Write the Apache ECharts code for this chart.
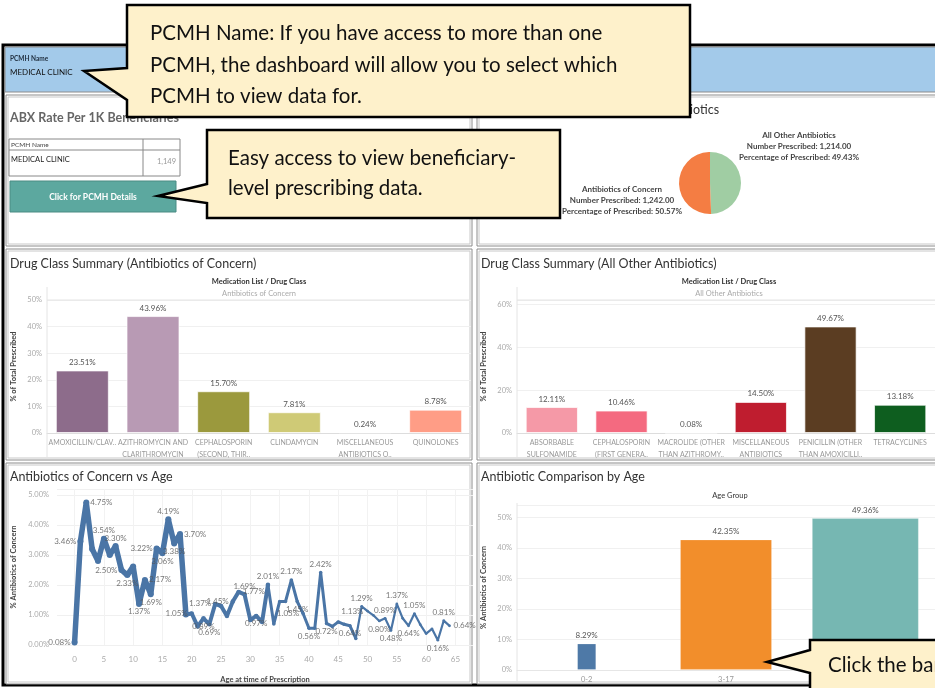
<!DOCTYPE html>
<html>
<head>
<meta charset="utf-8">
<title>PCMH Antibiotic Prescribing Dashboard</title>
<script src="https://cdn.jsdelivr.net/npm/echarts@6/dist/echarts.min.js"></script>
<style>
  html, body { margin: 0; padding: 0; background: #fff; }
  #chart { width: 935px; height: 688px; }
</style>
</head>
<body>
<div id="chart"></div>
<script>
// ---- values ----
var clinicName = 'MEDICAL CLINIC'
var abxRatePer1k = '1,149'

var pieNames = ['All Other Antibiotics', 'Antibiotics of Concern']
var pieCounts = [1214, 1242]
var piePercents = [49.43, 50.57]

var concernClasses = ['AMOXICILLIN/CLAV..', 'AZITHROMYCIN AND\nCLARITHROMYCIN', 'CEPHALOSPORIN\n(SECOND, THIR..', 'CLINDAMYCIN', 'MISCELLANEOUS\nANTIBIOTICS O..', 'QUINOLONES']
var concernPct = [23.51, 43.96, 15.70, 7.81, 0.24, 8.78]

var otherClasses = ['ABSORBABLE\nSULFONAMIDE', 'CEPHALOSPORIN\n(FIRST GENERA..', 'MACROLIDE (OTHER\nTHAN AZITHROMY..', 'MISCELLANEOUS\nANTIBIOTICS', 'PENICILLIN (OTHER\nTHAN AMOXICILLI..', 'TETRACYCLINES']
var otherPct = [12.11, 10.46, 0.08, 14.50, 49.67, 13.18]

var ages = [0, 1, 2, 3, 4, 5, 6, 7, 8, 9, 10, 11, 12, 13, 14, 15, 16, 17, 18, 19,
  20, 21, 22, 23, 24, 25, 26, 27, 28, 29, 30, 31, 32, 33, 34, 35, 36, 37, 38, 39,
  40, 41, 42, 43, 44, 45, 46, 47, 48, 49, 50, 51, 52, 53, 54, 55, 56, 57, 58, 59,
  60, 61, 62, 63, 64]
var concernByAge = [0.08, 3.46, 4.75, 3.20, 2.80, 3.54, 3.00, 3.30, 2.50, 2.33,
  2.62, 1.37, 2.17, 1.69, 3.22, 3.06, 4.19, 3.38, 3.70, 1.02,
  1.05, 0.62, 0.89, 0.69, 1.37, 1.30, 0.97, 1.45, 1.77, 1.69,
  0.83, 0.97, 0.77, 2.01, 0.70, 1.45, 1.45, 2.17, 1.45, 1.05,
  0.56, 0.56, 2.42, 0.72, 0.62, 0.77, 0.69, 0.64, 0.22, 1.29,
  1.13, 0.99, 0.80, 0.89, 0.48, 1.37, 0.89, 0.64, 1.05, 0.68,
  0.38, 0.54, 0.16, 0.81, 0.64]
var ageTicks = [0, 5, 10, 15, 20, 25, 30, 35, 40, 45, 50, 55, 60, 65]

var ageGroups = ['0-2', '3-17', '18-64']
var ageGroupPct = [8.29, 42.35, 49.36]

// ---- styling ----
var FONT = 'Lato'
var concernColors = ['#8D6C8B', '#B89AB4', '#9B993D', '#CFCA76', '#F4A6A0', '#FF9D86']
var otherColors = ['#F599A7', '#F46A80', '#D9D9D9', '#BF1D2F', '#5B3D22', '#0E5E1F']
var ageColors = ['#4E79A7', '#F28E2B', '#76B7B2']
var ageBarWidths = [18, 91, 106]
var pieColors = ['#A0CDA3', '#F47D43']
var lineBlue = '#4A75A6'
// where Tableau put each point label on the age line
var ageLabelPos = {0: 'left', 1: 'left', 2: 'right', 5: 'top', 7: 'top', 8: 'left', 9: 'bottom',
  11: 'bottom', 12: 'right', 13: 'bottom', 14: 'left', 15: 'bottom', 16: 'top', 17: 'bottom',
  18: 'right', 20: 'left', 22: 'bottom', 23: 'bottom', 24: 'left', 27: 'left', 28: 'right',
  29: 'top', 31: 'bottom', 33: 'top', 37: 'top', 38: 'bottom', 39: 'left', 40: 'bottom',
  42: 'top', 43: 'bottom', 47: 'bottom', 49: 'top', 50: 'left', 52: 'bottom', 53: 'top',
  54: 'bottom', 55: 'top', 57: 'bottom', 58: 'top', 62: 'bottom', 63: 'top', 64: 'right'}
// line gets thinner with fewer prescriptions
var lineSegments = [[0, 19, 5.5], [19, 33, 4], [33, 48, 3], [48, 64, 2.2]]

function fmtNum(n) {
  return n.toFixed(2).replace(/\B(?=(\d{3})+(?!\d))/g, ',')
}
function pct(v) { return v.toFixed(2) + '%' }

var chart = echarts.init(document.getElementById('chart'))

function panel(x, y, w, h) {
  return [
    { type: 'rect', z: -10, shape: { x: x, y: y, width: w, height: h }, style: { fill: '#fff', stroke: '#8c8c8c', lineWidth: 1 } },
    { type: 'rect', z: -9, shape: { x: x + 2, y: y + 2, width: w - 4, height: h - 4 }, style: { fill: 'none', stroke: '#c8c8c8', lineWidth: 1 } }
  ]
}
function txt(x, y, text, font, color, align) {
  return { type: 'text', z: 5, x: x, y: y, style: { text: text, font: font, fill: color || '#333', align: align || 'left', verticalAlign: 'middle' } }
}
function callout(points, z) {
  return { type: 'polygon', z: z, shape: { points: points }, style: { fill: '#FEF1CB', stroke: '#000', lineWidth: 2.5, lineJoin: 'miter' } }
}

var graphics = [].concat(
  // dashboard frame and header band
  [{ type: 'rect', z: -20, shape: { x: 3, y: 45, width: 945, height: 640 }, style: { fill: '#fff', stroke: '#000', lineWidth: 3 } },
   { type: 'rect', z: -19, shape: { x: 5, y: 47, width: 940, height: 45 }, style: { fill: '#A3CAEA', stroke: '#8c8c8c', lineWidth: 1 } }],
  panel(6, 95, 466, 151), panel(477, 95, 466, 151),
  panel(6, 249, 466, 211), panel(477, 249, 466, 211),
  panel(6, 463, 466, 221), panel(477, 463, 466, 221),
  [
    txt(10, 59, 'PCMH Name', 'bold 6.5px ' + FONT, '#1f2d3d'),
    txt(10, 72, clinicName, '8px ' + FONT, '#111'),

    // ABX rate panel
    txt(10, 118, 'ABX Rate Per 1K Beneficiaries', 'bold 12.5px ' + FONT, '#666'),
    { type: 'rect', z: 4, shape: { x: 9, y: 139, width: 171, height: 37 }, style: { fill: '#fff', stroke: '#888', lineWidth: 1 } },
    { type: 'line', z: 5, shape: { x1: 9, y1: 150, x2: 180, y2: 150 }, style: { stroke: '#888', lineWidth: 1 } },
    { type: 'line', z: 5, shape: { x1: 143, y1: 139, x2: 143, y2: 176 }, style: { stroke: '#888', lineWidth: 1 } },
    txt(11, 145, 'PCMH Name', '6.5px ' + FONT, '#444'),
    txt(11, 160, clinicName, '7.5px ' + FONT, '#222'),
    txt(176, 162, abxRatePer1k, '7.5px ' + FONT, '#999', 'right'),
    { type: 'rect', z: 4, shape: { x: 10, y: 181, width: 166, height: 31 }, style: { fill: '#5CA89F', stroke: '#4b8b83', lineWidth: 1 } },
    txt(93, 197, 'Click for PCMH Details', 'bold 8.5px ' + FONT, '#fff', 'center'),

    // panel titles
    txt(483, 110, 'Antibiotics of Concern vs Other Antibiotics', '12.5px ' + FONT, '#333'),
    txt(10, 264, 'Drug Class Summary (Antibiotics of Concern)', '12.5px ' + FONT, '#333'),
    txt(481, 264, 'Drug Class Summary (All Other Antibiotics)', '12.5px ' + FONT, '#333'),
    txt(10, 477, 'Antibiotics of Concern vs Age', '12.5px ' + FONT, '#333'),
    txt(481, 477, 'Antibiotic Comparison by Age', '12.5px ' + FONT, '#333'),

    // column headers
    txt(259, 282, 'Medication List / Drug Class', 'bold 7.5px ' + FONT, '#333', 'center'),
    txt(259, 294, 'Antibiotics of Concern', '7.5px ' + FONT, '#aaa', 'center'),
    txt(729, 282, 'Medication List / Drug Class', 'bold 7.5px ' + FONT, '#333', 'center'),
    txt(729, 294, 'All Other Antibiotics', '7.5px ' + FONT, '#aaa', 'center'),
    txt(730, 496, 'Age Group', '7.5px ' + FONT, '#333', 'center'),
    { type: 'line', z: 1, shape: { x1: 47, y1: 287, x2: 47, y2: 458 }, style: { stroke: '#e4e4e4', lineWidth: 1 } },
    { type: 'line', z: 1, shape: { x1: 47, y1: 300, x2: 470, y2: 300 }, style: { stroke: '#e4e4e4', lineWidth: 1 } },
    { type: 'line', z: 1, shape: { x1: 517, y1: 287, x2: 517, y2: 458 }, style: { stroke: '#e4e4e4', lineWidth: 1 } },
    { type: 'line', z: 1, shape: { x1: 517, y1: 300, x2: 940, y2: 300 }, style: { stroke: '#e4e4e4', lineWidth: 1 } },
    { type: 'line', z: 1, shape: { x1: 517, y1: 503, x2: 517, y2: 682 }, style: { stroke: '#e4e4e4', lineWidth: 1 } },

    // callouts on top of everything
    callout([[127, 5], [690, 5], [690, 117], [127, 117], [127, 100], [84, 71], [127, 68]], 100),
    { type: 'text', z: 101, x: 150, y: 18, style: { text: 'PCMH Name: If you have access to more than one\nPCMH, the dashboard will allow you to select which\nPCMH to view data for.', font: '20.5px ' + FONT, fill: '#111', lineHeight: 31.5 } },
    callout([[207, 130], [560, 130], [560, 218], [207, 218], [207, 203], [158, 196], [207, 184]], 100),
    { type: 'text', z: 101, x: 228, y: 143, style: { text: 'Easy access to view beneficiary-\nlevel prescribing data.', font: '20.5px ' + FONT, fill: '#111', lineHeight: 30 } },
    callout([[810, 640], [950, 640], [950, 700], [810, 700], [810, 673], [767, 662], [810, 650]], 100),
    { type: 'text', z: 101, x: 828, y: 665, style: { text: 'Click the bar to filter the dashboard', font: '20.5px ' + FONT, fill: '#111', verticalAlign: 'middle' } }
  ]
)

function pctAxis(gridIndex, max, interval, margin, name, nameGap, decimals) {
  return {
    type: 'value', gridIndex: gridIndex, min: 0, max: max, interval: interval,
    name: name, nameLocation: 'middle', nameGap: nameGap,
    nameTextStyle: { fontSize: 7.5, fontWeight: 'bold', color: '#444', fontFamily: FONT },
    axisLabel: {
      fontSize: 7.5, color: '#aaa', margin: margin, showMaxLabel: max % interval === 0 ? true : false,
      formatter: function (v) { return decimals ? v.toFixed(2) + '%' : v + '%' }
    },
    axisLine: { show: false }, axisTick: { show: false },
    splitLine: { lineStyle: { color: '#f0f0f0' } }
  }
}
function classAxis(gridIndex, cats) {
  return {
    type: 'category', gridIndex: gridIndex, data: cats,
    axisLine: { lineStyle: { color: '#ddd' } }, axisTick: { show: false },
    axisLabel: { fontSize: 7, color: '#999', margin: 4, lineHeight: 12, interval: 0 }
  }
}
function classBars(idx, values, colors) {
  return {
    type: 'bar', xAxisIndex: idx, yAxisIndex: idx, barCategoryGap: '25%',
    data: values.map(function (v, i) { return { value: v, itemStyle: { color: colors[i] } } }),
    itemStyle: { borderColor: 'rgba(255,255,255,0.7)', borderWidth: 1 },
    label: { show: true, position: 'top', distance: 4, fontSize: 8, color: '#555', formatter: function (p) { return pct(p.value) } }
  }
}

var lineSeries = lineSegments.map(function (seg) {
  var data = []
  for (var i = 0; i < ages.length; i++) {
    if (ages[i] >= seg[0] && ages[i] <= seg[1]) data.push([ages[i], concernByAge[i]])
  }
  return {
    type: 'line', xAxisIndex: 2, yAxisIndex: 2, data: data,
    symbol: 'circle', symbolSize: seg[2] + 0.5, showSymbol: true,
    lineStyle: { color: lineBlue, width: seg[2] }, itemStyle: { color: lineBlue },
    emphasis: { disabled: true }, z: 3
  }
})
var lineLabels = {
  type: 'scatter', xAxisIndex: 2, yAxisIndex: 2, symbolSize: 2, z: 4,
  itemStyle: { color: 'rgba(0,0,0,0)' },
  emphasis: { disabled: true },
  data: ages.filter(function (a) { return ageLabelPos[a] }).map(function (a) {
    return {
      value: [a, concernByAge[ages.indexOf(a)]],
      label: { show: true, position: ageLabelPos[a], distance: 3, fontSize: 8, color: '#555', formatter: function (p) { return pct(p.value[1]) } }
    }
  })
}

var option = {
  animation: false,
  textStyle: { fontFamily: FONT },
  graphic: graphics,
  grid: [
    { left: 47, top: 300, width: 424, height: 133 },
    { left: 517, top: 300, width: 424, height: 133 },
    { left: 57, top: 489, width: 416, height: 156 },
    { left: 517, top: 505, width: 426, height: 165 }
  ],
  xAxis: [
    classAxis(0, concernClasses),
    classAxis(1, otherClasses),
    {
      type: 'value', gridIndex: 2, min: -3, max: 68,
      name: 'Age at time of Prescription', nameLocation: 'middle', nameGap: 31,
      nameTextStyle: { fontSize: 7.5, fontWeight: 'bold', color: '#444', fontFamily: FONT },
      axisLine: { show: false },
      axisTick: { show: false, customValues: ageTicks },
      axisLabel: { fontSize: 8, color: '#aaa', margin: 10, customValues: ageTicks },
      splitLine: { show: true, lineStyle: { color: '#f2f2f2' } }
    },
    {
      type: 'category', gridIndex: 3, data: ageGroups,
      axisLine: { lineStyle: { color: '#e6e6e6' } }, axisTick: { show: false },
      axisLabel: { fontSize: 7.5, color: '#999', margin: 6 }
    }
  ],
  yAxis: [
    pctAxis(0, 50, 10, 5, '% of Total Prescribed', 29),
    pctAxis(1, 62, 20, 5, '% of Total Prescribed', 29),
    pctAxis(2, 5.2, 1, 8, '% Antibiotics of Concern', 39, true),
    pctAxis(3, 54, 10, 5, '% Antibiotics of Concern', 29)
  ],
  series: [
    {
      type: 'pie', center: [710, 183], radius: 31, startAngle: 90, clockwise: true,
      data: pieNames.map(function (n, i) { return { name: n, value: pieCounts[i], itemStyle: { color: pieColors[i] } } }),
      label: {
        show: true, position: 'outside', fontSize: 8, fontWeight: 'bold', color: '#444', lineHeight: 11,
        formatter: function (p) {
          return p.name + '\nNumber Prescribed: ' + fmtNum(pieCounts[p.dataIndex]) +
            '\nPercentage of Prescribed: ' + pct(piePercents[p.dataIndex])
        }
      },
      labelLine: { show: false },
      labelLayout: function (p) {
        return p.dataIndex === 0
          ? { x: 799, y: 146, align: 'center', verticalAlign: 'middle' }
          : { x: 622, y: 200, align: 'center', verticalAlign: 'middle' }
      },
      emphasis: { disabled: true }
    },
    classBars(0, concernPct, concernColors),
    classBars(1, otherPct, otherColors)
  ].concat(lineSeries, [lineLabels, {
    type: 'pictorialBar', xAxisIndex: 3, yAxisIndex: 3, symbol: 'rect', symbolRepeat: false,
    data: ageGroupPct.map(function (v, i) {
      return { value: v, symbolSize: [ageBarWidths[i], '100%'], itemStyle: { color: ageColors[i] } }
    }),
    itemStyle: { borderColor: 'rgba(255,255,255,0.7)', borderWidth: 1 },
    label: { show: true, position: 'top', distance: 4, fontSize: 8, color: '#555', formatter: function (p) { return pct(p.value) } }
  }])
}

chart.setOption(option)
</script>
</body>
</html>
